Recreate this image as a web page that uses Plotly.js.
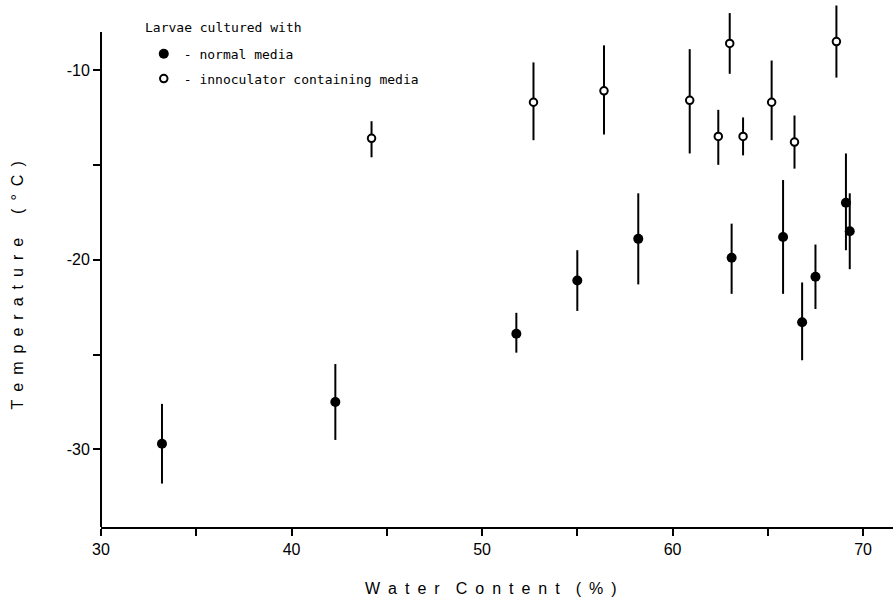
<!DOCTYPE html>
<html>
<head>
<meta charset="utf-8">
<script src="https://cdn.plot.ly/plotly-3.0.1.min.js"></script>
<style>html,body{margin:0;padding:0;background:#fff;}#chart{width:893px;height:604px;}</style>
</head>
<body>
<div id="chart"></div>
<script>
// Larvae cultured with normal media (filled circles)
const normalX      = [33.2, 42.3, 51.8, 55.0, 58.2, 63.1, 65.8, 66.8, 67.5, 69.1, 69.3];
const normalY      = [-29.7, -27.5, -23.9, -21.1, -18.9, -19.9, -18.8, -23.3, -20.9, -17.0, -18.5];
const normalErrUp  = [2.1, 2.0, 1.1, 1.6, 2.4, 1.8, 3.0, 2.1, 1.7, 2.6, 2.0];
const normalErrDn  = [2.1, 2.0, 1.0, 1.6, 2.4, 1.9, 3.0, 2.0, 1.7, 2.5, 2.0];

// Larvae cultured with innoculator containing media (open circles)
const inocX        = [44.2, 52.7, 56.4, 60.9, 62.4, 63.0, 63.7, 65.2, 66.4, 68.6];
const inocY        = [-13.6, -11.7, -11.1, -11.6, -13.5, -8.6, -13.5, -11.7, -13.8, -8.5];
const inocErrUp    = [0.9, 2.1, 2.4, 2.7, 1.4, 1.6, 1.0, 2.2, 1.4, 1.9];
const inocErrDn    = [1.0, 2.0, 2.3, 2.8, 1.5, 1.6, 1.0, 2.0, 1.4, 1.9];

const seriesNames  = ['- normal media', '- innoculator containing media'];
const legendTitle  = 'Larvae cultured with';

const xTickVals = [30, 35, 40, 45, 50, 55, 60, 65, 70];
const xTickText = ['30', '', '40', '', '50', '', '60', '', '70'];
const yTickVals = [-30, -25, -20, -15, -10];
const yTickText = ['-30', '', '-20', '', '-10'];

const xTitle = 'Water Content (%)';
const yTitle = 'Temperature (°C)';
const yAxisTop = -8.0;

function spaced(s, wordGap) {
  return s.split(' ').map(w => w.split('').join('\u2002')).join(wordGap);
}

const errStyle = {type: 'data', symmetric: false, color: '#000', thickness: 2, width: 0};

const traces = [
  {
    type: 'scatter', mode: 'markers', name: seriesNames[0], legendgroup: 'a',
    x: normalX, y: normalY,
    error_y: Object.assign({array: normalErrUp, arrayminus: normalErrDn}, errStyle),
    marker: {symbol: 'circle', size: 10, color: '#000', line: {width: 0}}
  },
  {
    type: 'scatter', mode: 'markers', name: seriesNames[1], legendgroup: 'b',
    x: inocX, y: inocY,
    error_y: Object.assign({array: inocErrUp, arrayminus: inocErrDn}, errStyle),
    marker: {symbol: 'circle', size: 7.5, color: '#fff', line: {width: 2, color: '#000'}}
  }
];

const tickFont = {family: 'Liberation Sans, Arial, sans-serif', size: 16, color: '#000'};
const titleFont = {family: 'Liberation Sans, Arial, sans-serif', size: 16, color: '#000'};
const monoFont = {family: 'DejaVu Sans Mono, monospace', size: 13, color: '#000'};

const layout = {
  width: 893, height: 604,
  margin: {l: 101, r: 0, t: 0, b: 77, pad: 0},
  paper_bgcolor: '#fff', plot_bgcolor: '#fff',
  showlegend: true,
  legend: {
    x: 0.054, y: 0.9265, xanchor: 'left', yanchor: 'top',
    bgcolor: 'rgba(0,0,0,0)', borderwidth: 0,
    traceorder: 'grouped', tracegroupgap: 5,
    font: monoFont
  },
  xaxis: {
    range: [30, 71.57], showgrid: false, zeroline: false,
    showline: true, linewidth: 2, linecolor: '#000',
    ticks: 'outside', ticklen: 7, tickwidth: 2, tickcolor: '#000',
    tickvals: xTickVals, ticktext: xTickText, tickfont: tickFont
  },
  yaxis: {
    range: [-34.09, -6.31], showgrid: false, zeroline: false,
    showline: false,
    ticks: 'outside', ticklen: 7, tickwidth: 2, tickcolor: '#000',
    tickvals: yTickVals, ticktext: yTickText, tickfont: tickFont
  },
  shapes: [
    {type: 'line', xref: 'paper', yref: 'y', x0: 0, x1: 0, y0: -34.09, y1: yAxisTop,
     line: {color: '#000', width: 2}}
  ],
  annotations: [
    {text: legendTitle, xref: 'paper', yref: 'paper', x: 0.053, y: 0.947,
     xanchor: 'left', yanchor: 'middle', showarrow: false, font: monoFont},
    {text: spaced(xTitle, '\u2002\u2002'), xref: 'paper', yref: 'paper', x: 0.493, y: -0.1176,
     xanchor: 'center', yanchor: 'middle', showarrow: false, font: titleFont},
    {text: spaced(yTitle, '\u2002\u2002\u2002'), xref: 'paper', yref: 'paper', x: -0.105, y: 0.458,
     xanchor: 'center', yanchor: 'middle', textangle: -90, showarrow: false, font: titleFont}
  ]
};

Plotly.newPlot('chart', traces, layout, {displayModeBar: false, staticPlot: true});
</script>
</body>
</html>
